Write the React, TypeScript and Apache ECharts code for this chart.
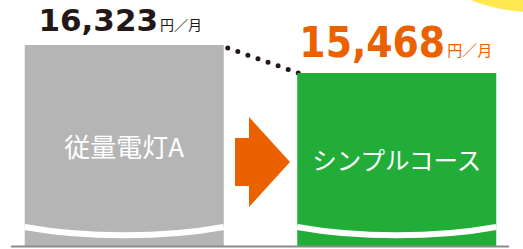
import React, { useEffect, useRef } from 'react';
import * as echarts from 'echarts';

// ---- data ----
const categories = ['従量電灯A', 'シンプルコース'];
const monthlyCost = [16323, 15468];
const unitText = '円／月';

// ---- styles ----
const BAR_COLORS = ['#B5B5B5', '#22AC38'];
const VALUE_COLORS = ['#231815', '#EB6100'];
const NAME_SIZES = [26, 24.5];
const VALUE_OFFSETS = [[-4, 0], [-1, 0]];
const BAR_W = 199;

export default function App() {
  const ref = useRef<HTMLDivElement>(null);

  useEffect(() => {
    document.body.style.margin = '0';
    const chart = echarts.init(ref.current!, null, { renderer: 'svg' });

    const wave = (x0: number) => ({
      type: 'bezierCurve',
      z: 100,
      silent: true,
      shape: {
        x1: x0, y1: 227,
        cpx1: x0 + 60, cpy1: 238,
        cpx2: x0 + BAR_W - 60, cpy2: 238,
        x2: x0 + BAR_W, y2: 227,
      },
      style: { stroke: '#ffffff', lineWidth: 6, fill: null },
    });

    const points = monthlyCost.map((v, i) => [i, v]);

    const option: any = {
      animation: false,
      grid: { left: 0, right: 0, top: 0, bottom: 3 },
      xAxis: { type: 'value', min: -0.45596, max: 1.4633, show: false },
      yAxis: { type: 'value', min: 10185, max: 17697, show: false },
      graphic: [
        {
          type: 'circle',
          z: 0,
          silent: true,
          shape: { cx: 532, cy: -150, r: 162 },
          style: { fill: '#FFE94E' },
        },
        {
          type: 'polygon',
          z: 100,
          silent: true,
          shape: {
            points: [
              [235, 138], [249, 138], [249, 117], [290, 162],
              [249, 207], [249, 186], [235, 186],
            ],
          },
          style: { fill: '#EB6100' },
        },
        wave(24.75),
        wave(297.25),
        {
          type: 'line',
          z: 100,
          silent: true,
          shape: { x1: 11, y1: 246.5, x2: 509, y2: 246.5 },
          style: { stroke: '#8C8C8C', lineWidth: 2 },
        },
      ],
      series: [
        {
          type: 'bar',
          barWidth: BAR_W,
          data: points.map((p, i) => ({
            value: p,
            itemStyle: { color: BAR_COLORS[i] },
            label: { offset: VALUE_OFFSETS[i] },
          })),
          label: {
            show: true,
            position: 'top',
            distance: 9,
            formatter: (p: any) =>
              `{n${p.dataIndex}|${Number(monthlyCost[p.dataIndex]).toLocaleString('en-US')}}{u${p.dataIndex}|${unitText}}`,
            rich: {
              n0: { fontFamily: 'DejaVu Sans', fontWeight: 'bold', fontSize: 31, color: VALUE_COLORS[0], verticalAlign: 'bottom' },
              u0: { fontFamily: 'Noto Sans CJK JP', fontSize: 14, color: VALUE_COLORS[0], verticalAlign: 'bottom', padding: [0, 0, 5, 2] },
              n1: { fontFamily: 'DejaVu Sans Condensed', fontWeight: 'bold', fontSize: 42, color: VALUE_COLORS[1], verticalAlign: 'bottom' },
              u1: { fontFamily: 'Noto Sans CJK JP', fontSize: 15, color: VALUE_COLORS[1], verticalAlign: 'bottom', padding: [0, 0, 7, 2] },
            },
          },
        },
        {
          type: 'bar',
          barWidth: BAR_W,
          barGap: '-100%',
          silent: true,
          data: points.map((p, i) => ({ value: p, label: { fontSize: NAME_SIZES[i] } })),
          itemStyle: { color: 'rgba(0,0,0,0)' },
          label: {
            show: true,
            position: 'inside',
            formatter: (p: any) => categories[p.dataIndex],
            color: '#ffffff',
            fontSize: 24,
            fontFamily: 'Noto Sans CJK JP',
          },
        },
        {
          type: 'custom',
          silent: true,
          data: [[0, monthlyCost[0], 1, monthlyCost[1]]],
          renderItem: (params: any, api: any) => {
            const a = api.coord([api.value(0), api.value(1)]);
            const b = api.coord([api.value(2), api.value(3)]);
            const x1 = a[0] + BAR_W / 2 + 4;
            const y1 = a[1] + 3;
            const x2 = b[0] - BAR_W / 2 + 1;
            const y2 = b[1];
            const len = Math.hypot(x2 - x1, y2 - y1);
            return {
              type: 'line',
              shape: { x1, y1, x2, y2 },
              style: { stroke: '#231815', lineWidth: 5, lineDash: [0, len / 7], lineCap: 'round' },
            };
          },
        },
      ],
    };
    chart.setOption(option);
    return () => chart.dispose();
  }, []);

  return <div ref={ref} style={{ width: 523, height: 249 }} />;
}
